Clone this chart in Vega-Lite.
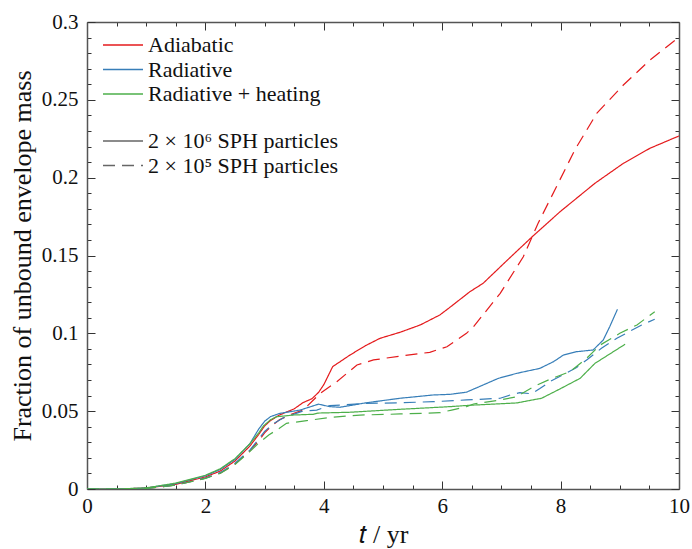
{
  "$schema": "https://vega.github.io/schema/vega-lite/v6.json",
  "width": 592,
  "height": 467,
  "autosize": {"type": "none"},
  "padding": {"left": 87, "top": 22, "right": 13, "bottom": 60},
  "background": "white",
  "config": {
    "view": {"stroke": null},
    "font": "Liberation Serif",
    "axis": {"grid": false, "domainColor": "#555", "domainWidth": 1.5, "tickColor": "#333", "tickWidth": 1, "labelColor": "#111", "titleColor": "#111", "labelFontSize": 21, "titleFontSize": 26, "titleFontWeight": "normal", "labelFlush": false, "labelOverlap": false, "labelBound": false},
    "legend": {"labelFontSize": 22, "labelColor": "#111", "labelLimit": 0, "symbolType": "stroke", "symbolSize": 1600, "symbolStrokeWidth": 1.3, "clipHeight": 20, "rowPadding": 2.5, "labelOffset": 4, "padding": 0}
  },
  "data": {"values": [
    {"t": 0, "f": 0, "model": "Adiabatic", "res": "2 × 10⁶ SPH particles"},
    {"t": 0.5, "f": 0, "model": "Adiabatic", "res": "2 × 10⁶ SPH particles"},
    {"t": 1, "f": 0.0006, "model": "Adiabatic", "res": "2 × 10⁶ SPH particles"},
    {"t": 1.5, "f": 0.003, "model": "Adiabatic", "res": "2 × 10⁶ SPH particles"},
    {"t": 2, "f": 0.0078, "model": "Adiabatic", "res": "2 × 10⁶ SPH particles"},
    {"t": 2.25, "f": 0.0115, "model": "Adiabatic", "res": "2 × 10⁶ SPH particles"},
    {"t": 2.5, "f": 0.018, "model": "Adiabatic", "res": "2 × 10⁶ SPH particles"},
    {"t": 2.75, "f": 0.0275, "model": "Adiabatic", "res": "2 × 10⁶ SPH particles"},
    {"t": 2.9, "f": 0.035, "model": "Adiabatic", "res": "2 × 10⁶ SPH particles"},
    {"t": 3.0, "f": 0.0405, "model": "Adiabatic", "res": "2 × 10⁶ SPH particles"},
    {"t": 3.1, "f": 0.044, "model": "Adiabatic", "res": "2 × 10⁶ SPH particles"},
    {"t": 3.25, "f": 0.0475, "model": "Adiabatic", "res": "2 × 10⁶ SPH particles"},
    {"t": 3.5, "f": 0.0515, "model": "Adiabatic", "res": "2 × 10⁶ SPH particles"},
    {"t": 3.65, "f": 0.0555, "model": "Adiabatic", "res": "2 × 10⁶ SPH particles"},
    {"t": 3.8, "f": 0.058, "model": "Adiabatic", "res": "2 × 10⁶ SPH particles"},
    {"t": 3.91, "f": 0.062, "model": "Adiabatic", "res": "2 × 10⁶ SPH particles"},
    {"t": 4.0, "f": 0.067, "model": "Adiabatic", "res": "2 × 10⁶ SPH particles"},
    {"t": 4.15, "f": 0.0786, "model": "Adiabatic", "res": "2 × 10⁶ SPH particles"},
    {"t": 4.44, "f": 0.086, "model": "Adiabatic", "res": "2 × 10⁶ SPH particles"},
    {"t": 4.7, "f": 0.092, "model": "Adiabatic", "res": "2 × 10⁶ SPH particles"},
    {"t": 4.95, "f": 0.0968, "model": "Adiabatic", "res": "2 × 10⁶ SPH particles"},
    {"t": 5.29, "f": 0.1007, "model": "Adiabatic", "res": "2 × 10⁶ SPH particles"},
    {"t": 5.63, "f": 0.1054, "model": "Adiabatic", "res": "2 × 10⁶ SPH particles"},
    {"t": 5.96, "f": 0.1118, "model": "Adiabatic", "res": "2 × 10⁶ SPH particles"},
    {"t": 6.13, "f": 0.1167, "model": "Adiabatic", "res": "2 × 10⁶ SPH particles"},
    {"t": 6.47, "f": 0.1268, "model": "Adiabatic", "res": "2 × 10⁶ SPH particles"},
    {"t": 6.69, "f": 0.1321, "model": "Adiabatic", "res": "2 × 10⁶ SPH particles"},
    {"t": 7.1, "f": 0.147, "model": "Adiabatic", "res": "2 × 10⁶ SPH particles"},
    {"t": 7.51, "f": 0.1617, "model": "Adiabatic", "res": "2 × 10⁶ SPH particles"},
    {"t": 7.99, "f": 0.1781, "model": "Adiabatic", "res": "2 × 10⁶ SPH particles"},
    {"t": 8.58, "f": 0.1964, "model": "Adiabatic", "res": "2 × 10⁶ SPH particles"},
    {"t": 9.06, "f": 0.2092, "model": "Adiabatic", "res": "2 × 10⁶ SPH particles"},
    {"t": 9.51, "f": 0.2189, "model": "Adiabatic", "res": "2 × 10⁶ SPH particles"},
    {"t": 10, "f": 0.2268, "model": "Adiabatic", "res": "2 × 10⁶ SPH particles"},

    {"t": 0, "f": 0, "model": "Adiabatic", "res": "2 × 10⁵ SPH particles"},
    {"t": 0.5, "f": 0, "model": "Adiabatic", "res": "2 × 10⁵ SPH particles"},
    {"t": 1, "f": 0.0004, "model": "Adiabatic", "res": "2 × 10⁵ SPH particles"},
    {"t": 1.5, "f": 0.0025, "model": "Adiabatic", "res": "2 × 10⁵ SPH particles"},
    {"t": 2, "f": 0.007, "model": "Adiabatic", "res": "2 × 10⁵ SPH particles"},
    {"t": 2.25, "f": 0.0102, "model": "Adiabatic", "res": "2 × 10⁵ SPH particles"},
    {"t": 2.5, "f": 0.016, "model": "Adiabatic", "res": "2 × 10⁵ SPH particles"},
    {"t": 2.75, "f": 0.0245, "model": "Adiabatic", "res": "2 × 10⁵ SPH particles"},
    {"t": 2.9, "f": 0.031, "model": "Adiabatic", "res": "2 × 10⁵ SPH particles"},
    {"t": 3.0, "f": 0.036, "model": "Adiabatic", "res": "2 × 10⁵ SPH particles"},
    {"t": 3.1, "f": 0.04, "model": "Adiabatic", "res": "2 × 10⁵ SPH particles"},
    {"t": 3.25, "f": 0.0445, "model": "Adiabatic", "res": "2 × 10⁵ SPH particles"},
    {"t": 3.45, "f": 0.048, "model": "Adiabatic", "res": "2 × 10⁵ SPH particles"},
    {"t": 3.65, "f": 0.0507, "model": "Adiabatic", "res": "2 × 10⁵ SPH particles"},
    {"t": 3.94, "f": 0.0615, "model": "Adiabatic", "res": "2 × 10⁵ SPH particles"},
    {"t": 4.22, "f": 0.0689, "model": "Adiabatic", "res": "2 × 10⁵ SPH particles"},
    {"t": 4.39, "f": 0.0743, "model": "Adiabatic", "res": "2 × 10⁵ SPH particles"},
    {"t": 4.56, "f": 0.0797, "model": "Adiabatic", "res": "2 × 10⁵ SPH particles"},
    {"t": 4.84, "f": 0.0829, "model": "Adiabatic", "res": "2 × 10⁵ SPH particles"},
    {"t": 5.29, "f": 0.0854, "model": "Adiabatic", "res": "2 × 10⁵ SPH particles"},
    {"t": 5.79, "f": 0.0878, "model": "Adiabatic", "res": "2 × 10⁵ SPH particles"},
    {"t": 6.08, "f": 0.0914, "model": "Adiabatic", "res": "2 × 10⁵ SPH particles"},
    {"t": 6.41, "f": 0.1, "model": "Adiabatic", "res": "2 × 10⁵ SPH particles"},
    {"t": 6.53, "f": 0.1043, "model": "Adiabatic", "res": "2 × 10⁵ SPH particles"},
    {"t": 6.98, "f": 0.1257, "model": "Adiabatic", "res": "2 × 10⁵ SPH particles"},
    {"t": 7.37, "f": 0.1492, "model": "Adiabatic", "res": "2 × 10⁵ SPH particles"},
    {"t": 7.62, "f": 0.1707, "model": "Adiabatic", "res": "2 × 10⁵ SPH particles"},
    {"t": 7.93, "f": 0.1942, "model": "Adiabatic", "res": "2 × 10⁵ SPH particles"},
    {"t": 8.24, "f": 0.2178, "model": "Adiabatic", "res": "2 × 10⁵ SPH particles"},
    {"t": 8.61, "f": 0.2413, "model": "Adiabatic", "res": "2 × 10⁵ SPH particles"},
    {"t": 9.06, "f": 0.2595, "model": "Adiabatic", "res": "2 × 10⁵ SPH particles"},
    {"t": 9.51, "f": 0.2756, "model": "Adiabatic", "res": "2 × 10⁵ SPH particles"},
    {"t": 10, "f": 0.2902, "model": "Adiabatic", "res": "2 × 10⁵ SPH particles"},

    {"t": 0, "f": 0, "model": "Radiative", "res": "2 × 10⁶ SPH particles"},
    {"t": 0.5, "f": 0, "model": "Radiative", "res": "2 × 10⁶ SPH particles"},
    {"t": 1, "f": 0.0006, "model": "Radiative", "res": "2 × 10⁶ SPH particles"},
    {"t": 1.5, "f": 0.0035, "model": "Radiative", "res": "2 × 10⁶ SPH particles"},
    {"t": 2, "f": 0.0085, "model": "Radiative", "res": "2 × 10⁶ SPH particles"},
    {"t": 2.25, "f": 0.0125, "model": "Radiative", "res": "2 × 10⁶ SPH particles"},
    {"t": 2.5, "f": 0.019, "model": "Radiative", "res": "2 × 10⁶ SPH particles"},
    {"t": 2.75, "f": 0.029, "model": "Radiative", "res": "2 × 10⁶ SPH particles"},
    {"t": 2.9, "f": 0.0385, "model": "Radiative", "res": "2 × 10⁶ SPH particles"},
    {"t": 3.0, "f": 0.0435, "model": "Radiative", "res": "2 × 10⁶ SPH particles"},
    {"t": 3.1, "f": 0.0465, "model": "Radiative", "res": "2 × 10⁶ SPH particles"},
    {"t": 3.26, "f": 0.0486, "model": "Radiative", "res": "2 × 10⁶ SPH particles"},
    {"t": 3.6, "f": 0.0507, "model": "Radiative", "res": "2 × 10⁶ SPH particles"},
    {"t": 3.91, "f": 0.0545, "model": "Radiative", "res": "2 × 10⁶ SPH particles"},
    {"t": 4.1, "f": 0.0529, "model": "Radiative", "res": "2 × 10⁶ SPH particles"},
    {"t": 4.27, "f": 0.0525, "model": "Radiative", "res": "2 × 10⁶ SPH particles"},
    {"t": 4.72, "f": 0.0554, "model": "Radiative", "res": "2 × 10⁶ SPH particles"},
    {"t": 5.29, "f": 0.0583, "model": "Radiative", "res": "2 × 10⁶ SPH particles"},
    {"t": 5.85, "f": 0.0604, "model": "Radiative", "res": "2 × 10⁶ SPH particles"},
    {"t": 6.13, "f": 0.0608, "model": "Radiative", "res": "2 × 10⁶ SPH particles"},
    {"t": 6.41, "f": 0.0622, "model": "Radiative", "res": "2 × 10⁶ SPH particles"},
    {"t": 6.69, "f": 0.0668, "model": "Radiative", "res": "2 × 10⁶ SPH particles"},
    {"t": 6.95, "f": 0.0711, "model": "Radiative", "res": "2 × 10⁶ SPH particles"},
    {"t": 7.26, "f": 0.0743, "model": "Radiative", "res": "2 × 10⁶ SPH particles"},
    {"t": 7.65, "f": 0.0775, "model": "Radiative", "res": "2 × 10⁶ SPH particles"},
    {"t": 7.88, "f": 0.0818, "model": "Radiative", "res": "2 × 10⁶ SPH particles"},
    {"t": 8.05, "f": 0.0861, "model": "Radiative", "res": "2 × 10⁶ SPH particles"},
    {"t": 8.27, "f": 0.0882, "model": "Radiative", "res": "2 × 10⁶ SPH particles"},
    {"t": 8.55, "f": 0.0893, "model": "Radiative", "res": "2 × 10⁶ SPH particles"},
    {"t": 8.72, "f": 0.0957, "model": "Radiative", "res": "2 × 10⁶ SPH particles"},
    {"t": 8.83, "f": 0.1043, "model": "Radiative", "res": "2 × 10⁶ SPH particles"},
    {"t": 8.96, "f": 0.1154, "model": "Radiative", "res": "2 × 10⁶ SPH particles"},

    {"t": 0, "f": 0, "model": "Radiative", "res": "2 × 10⁵ SPH particles"},
    {"t": 0.5, "f": 0, "model": "Radiative", "res": "2 × 10⁵ SPH particles"},
    {"t": 1, "f": 0.0004, "model": "Radiative", "res": "2 × 10⁵ SPH particles"},
    {"t": 1.5, "f": 0.0025, "model": "Radiative", "res": "2 × 10⁵ SPH particles"},
    {"t": 2, "f": 0.007, "model": "Radiative", "res": "2 × 10⁵ SPH particles"},
    {"t": 2.25, "f": 0.0105, "model": "Radiative", "res": "2 × 10⁵ SPH particles"},
    {"t": 2.5, "f": 0.0165, "model": "Radiative", "res": "2 × 10⁵ SPH particles"},
    {"t": 2.75, "f": 0.025, "model": "Radiative", "res": "2 × 10⁵ SPH particles"},
    {"t": 2.9, "f": 0.032, "model": "Radiative", "res": "2 × 10⁵ SPH particles"},
    {"t": 3.0, "f": 0.037, "model": "Radiative", "res": "2 × 10⁵ SPH particles"},
    {"t": 3.15, "f": 0.042, "model": "Radiative", "res": "2 × 10⁵ SPH particles"},
    {"t": 3.32, "f": 0.0458, "model": "Radiative", "res": "2 × 10⁵ SPH particles"},
    {"t": 3.65, "f": 0.0501, "model": "Radiative", "res": "2 × 10⁵ SPH particles"},
    {"t": 3.88, "f": 0.0507, "model": "Radiative", "res": "2 × 10⁵ SPH particles"},
    {"t": 4.1, "f": 0.0535, "model": "Radiative", "res": "2 × 10⁵ SPH particles"},
    {"t": 4.72, "f": 0.055, "model": "Radiative", "res": "2 × 10⁵ SPH particles"},
    {"t": 5.29, "f": 0.0554, "model": "Radiative", "res": "2 × 10⁵ SPH particles"},
    {"t": 5.85, "f": 0.0561, "model": "Radiative", "res": "2 × 10⁵ SPH particles"},
    {"t": 6.41, "f": 0.0572, "model": "Radiative", "res": "2 × 10⁵ SPH particles"},
    {"t": 6.98, "f": 0.0583, "model": "Radiative", "res": "2 × 10⁵ SPH particles"},
    {"t": 7.15, "f": 0.0604, "model": "Radiative", "res": "2 × 10⁵ SPH particles"},
    {"t": 7.31, "f": 0.0619, "model": "Radiative", "res": "2 × 10⁵ SPH particles"},
    {"t": 7.51, "f": 0.0612, "model": "Radiative", "res": "2 × 10⁵ SPH particles"},
    {"t": 7.65, "f": 0.0645, "model": "Radiative", "res": "2 × 10⁵ SPH particles"},
    {"t": 7.82, "f": 0.069, "model": "Radiative", "res": "2 × 10⁵ SPH particles"},
    {"t": 8.27, "f": 0.078, "model": "Radiative", "res": "2 × 10⁵ SPH particles"},
    {"t": 8.44, "f": 0.0829, "model": "Radiative", "res": "2 × 10⁵ SPH particles"},
    {"t": 8.69, "f": 0.0904, "model": "Radiative", "res": "2 × 10⁵ SPH particles"},
    {"t": 8.95, "f": 0.0968, "model": "Radiative", "res": "2 × 10⁵ SPH particles"},
    {"t": 9.37, "f": 0.1054, "model": "Radiative", "res": "2 × 10⁵ SPH particles"},
    {"t": 9.59, "f": 0.109, "model": "Radiative", "res": "2 × 10⁵ SPH particles"},

    {"t": 0, "f": 0, "model": "Radiative + heating", "res": "2 × 10⁶ SPH particles"},
    {"t": 0.5, "f": 0, "model": "Radiative + heating", "res": "2 × 10⁶ SPH particles"},
    {"t": 1, "f": 0.0007, "model": "Radiative + heating", "res": "2 × 10⁶ SPH particles"},
    {"t": 1.5, "f": 0.0038, "model": "Radiative + heating", "res": "2 × 10⁶ SPH particles"},
    {"t": 2, "f": 0.0088, "model": "Radiative + heating", "res": "2 × 10⁶ SPH particles"},
    {"t": 2.25, "f": 0.013, "model": "Radiative + heating", "res": "2 × 10⁶ SPH particles"},
    {"t": 2.5, "f": 0.0195, "model": "Radiative + heating", "res": "2 × 10⁶ SPH particles"},
    {"t": 2.75, "f": 0.029, "model": "Radiative + heating", "res": "2 × 10⁶ SPH particles"},
    {"t": 2.9, "f": 0.036, "model": "Radiative + heating", "res": "2 × 10⁶ SPH particles"},
    {"t": 2.98, "f": 0.0405, "model": "Radiative + heating", "res": "2 × 10⁶ SPH particles"},
    {"t": 3.1, "f": 0.0445, "model": "Radiative + heating", "res": "2 × 10⁶ SPH particles"},
    {"t": 3.2, "f": 0.0464, "model": "Radiative + heating", "res": "2 × 10⁶ SPH particles"},
    {"t": 3.48, "f": 0.0475, "model": "Radiative + heating", "res": "2 × 10⁶ SPH particles"},
    {"t": 3.82, "f": 0.048, "model": "Radiative + heating", "res": "2 × 10⁶ SPH particles"},
    {"t": 3.91, "f": 0.0488, "model": "Radiative + heating", "res": "2 × 10⁶ SPH particles"},
    {"t": 4.44, "f": 0.0493, "model": "Radiative + heating", "res": "2 × 10⁶ SPH particles"},
    {"t": 5.29, "f": 0.0512, "model": "Radiative + heating", "res": "2 × 10⁶ SPH particles"},
    {"t": 6.13, "f": 0.0529, "model": "Radiative + heating", "res": "2 × 10⁶ SPH particles"},
    {"t": 6.47, "f": 0.0538, "model": "Radiative + heating", "res": "2 × 10⁶ SPH particles"},
    {"t": 7.26, "f": 0.0553, "model": "Radiative + heating", "res": "2 × 10⁶ SPH particles"},
    {"t": 7.68, "f": 0.0583, "model": "Radiative + heating", "res": "2 × 10⁶ SPH particles"},
    {"t": 8.0, "f": 0.0645, "model": "Radiative + heating", "res": "2 × 10⁶ SPH particles"},
    {"t": 8.33, "f": 0.0711, "model": "Radiative + heating", "res": "2 × 10⁶ SPH particles"},
    {"t": 8.58, "f": 0.0807, "model": "Radiative + heating", "res": "2 × 10⁶ SPH particles"},
    {"t": 9.09, "f": 0.093, "model": "Radiative + heating", "res": "2 × 10⁶ SPH particles"},

    {"t": 0, "f": 0, "model": "Radiative + heating", "res": "2 × 10⁵ SPH particles"},
    {"t": 0.5, "f": 0, "model": "Radiative + heating", "res": "2 × 10⁵ SPH particles"},
    {"t": 1, "f": 0.0004, "model": "Radiative + heating", "res": "2 × 10⁵ SPH particles"},
    {"t": 1.5, "f": 0.0025, "model": "Radiative + heating", "res": "2 × 10⁵ SPH particles"},
    {"t": 2, "f": 0.0068, "model": "Radiative + heating", "res": "2 × 10⁵ SPH particles"},
    {"t": 2.25, "f": 0.01, "model": "Radiative + heating", "res": "2 × 10⁵ SPH particles"},
    {"t": 2.5, "f": 0.0158, "model": "Radiative + heating", "res": "2 × 10⁵ SPH particles"},
    {"t": 2.75, "f": 0.024, "model": "Radiative + heating", "res": "2 × 10⁵ SPH particles"},
    {"t": 2.9, "f": 0.0295, "model": "Radiative + heating", "res": "2 × 10⁵ SPH particles"},
    {"t": 3.07, "f": 0.0347, "model": "Radiative + heating", "res": "2 × 10⁵ SPH particles"},
    {"t": 3.25, "f": 0.039, "model": "Radiative + heating", "res": "2 × 10⁵ SPH particles"},
    {"t": 3.37, "f": 0.0422, "model": "Radiative + heating", "res": "2 × 10⁵ SPH particles"},
    {"t": 3.71, "f": 0.0439, "model": "Radiative + heating", "res": "2 × 10⁵ SPH particles"},
    {"t": 4.1, "f": 0.046, "model": "Radiative + heating", "res": "2 × 10⁵ SPH particles"},
    {"t": 4.61, "f": 0.0475, "model": "Radiative + heating", "res": "2 × 10⁵ SPH particles"},
    {"t": 5.29, "f": 0.0482, "model": "Radiative + heating", "res": "2 × 10⁵ SPH particles"},
    {"t": 5.96, "f": 0.049, "model": "Radiative + heating", "res": "2 × 10⁵ SPH particles"},
    {"t": 6.16, "f": 0.0507, "model": "Radiative + heating", "res": "2 × 10⁵ SPH particles"},
    {"t": 6.41, "f": 0.0529, "model": "Radiative + heating", "res": "2 × 10⁵ SPH particles"},
    {"t": 6.53, "f": 0.0546, "model": "Radiative + heating", "res": "2 × 10⁵ SPH particles"},
    {"t": 6.98, "f": 0.0572, "model": "Radiative + heating", "res": "2 × 10⁵ SPH particles"},
    {"t": 7.26, "f": 0.0593, "model": "Radiative + heating", "res": "2 × 10⁵ SPH particles"},
    {"t": 7.54, "f": 0.0657, "model": "Radiative + heating", "res": "2 × 10⁵ SPH particles"},
    {"t": 7.82, "f": 0.0705, "model": "Radiative + heating", "res": "2 × 10⁵ SPH particles"},
    {"t": 8.16, "f": 0.0754, "model": "Radiative + heating", "res": "2 × 10⁵ SPH particles"},
    {"t": 8.44, "f": 0.084, "model": "Radiative + heating", "res": "2 × 10⁵ SPH particles"},
    {"t": 8.67, "f": 0.0925, "model": "Radiative + heating", "res": "2 × 10⁵ SPH particles"},
    {"t": 9.0, "f": 0.1, "model": "Radiative + heating", "res": "2 × 10⁵ SPH particles"},
    {"t": 9.29, "f": 0.1054, "model": "Radiative + heating", "res": "2 × 10⁵ SPH particles"},
    {"t": 9.59, "f": 0.1139, "model": "Radiative + heating", "res": "2 × 10⁵ SPH particles"}
  ]},
  "layer": [
    {
      "mark": {"type": "line", "strokeWidth": 1.2, "interpolate": "linear", "clip": true},
      "encoding": {
        "x": {"field": "t", "type": "quantitative", "scale": {"domain": [0, 10], "nice": false},
          "axis": {"orient": "bottom", "title": "𝑡 / yr", "titlePadding": 1,
            "values": [0, 0.5, 1, 1.5, 2, 2.5, 3, 3.5, 4, 4.5, 5, 5.5, 6, 6.5, 7, 7.5, 8, 8.5, 9, 9.5, 10],
            "labelExpr": "datum.value % 2 == 0 ? format(datum.value, 'd') : ''",
            "tickSize": {"condition": {"test": "datum.value % 2 == 0", "value": -8}, "value": -4},
            "labelPadding": 14}},
        "y": {"field": "f", "type": "quantitative", "scale": {"domain": [0, 0.3], "nice": false},
          "axis": {"orient": "left", "title": "Fraction of unbound envelope mass", "titlePadding": 6,
            "values": [0, 0.01, 0.02, 0.03, 0.04, 0.05, 0.06, 0.07, 0.08, 0.09, 0.1, 0.11, 0.12, 0.13, 0.14, 0.15, 0.16, 0.17, 0.18, 0.19, 0.2, 0.21, 0.22, 0.23, 0.24, 0.25, 0.26, 0.27, 0.28, 0.29, 0.3],
            "labelExpr": "abs(datum.value*20 - round(datum.value*20)) < 1e-6 ? format(datum.value, '~g') : ''",
            "tickSize": {"condition": {"test": "abs(datum.value*20 - round(datum.value*20)) < 1e-6", "value": -8}, "value": -4},
            "labelPadding": 17}},
        "color": {"field": "model", "type": "nominal",
          "scale": {"domain": ["Adiabatic", "Radiative", "Radiative + heating"], "range": ["#e41a1c", "#377eb8", "#4daf4a"]},
          "legend": {"orient": "none", "legendX": 15, "legendY": 13, "title": null}},
        "strokeDash": {"field": "res", "type": "nominal",
          "scale": {"domain": ["2 × 10⁶ SPH particles", "2 × 10⁵ SPH particles"], "range": [[1, 0], [12, 7]]},
          "legend": {"orient": "none", "legendX": 15, "legendY": 109, "title": null, "symbolStrokeColor": "#666"}}
      }
    },
    {
      "mark": {"type": "point", "opacity": 0},
      "encoding": {
        "x": {"field": "t", "type": "quantitative",
          "axis": {"orient": "top", "title": null, "labels": false,
            "values": [0, 0.5, 1, 1.5, 2, 2.5, 3, 3.5, 4, 4.5, 5, 5.5, 6, 6.5, 7, 7.5, 8, 8.5, 9, 9.5, 10],
            "tickSize": {"condition": {"test": "datum.value % 2 == 0", "value": -8}, "value": -4}}},
        "y": {"field": "f", "type": "quantitative",
          "axis": {"orient": "right", "title": null, "labels": false,
            "values": [0, 0.01, 0.02, 0.03, 0.04, 0.05, 0.06, 0.07, 0.08, 0.09, 0.1, 0.11, 0.12, 0.13, 0.14, 0.15, 0.16, 0.17, 0.18, 0.19, 0.2, 0.21, 0.22, 0.23, 0.24, 0.25, 0.26, 0.27, 0.28, 0.29, 0.3],
            "tickSize": {"condition": {"test": "abs(datum.value*20 - round(datum.value*20)) < 1e-6", "value": -8}, "value": -4}}}
      }
    }
  ],
  "resolve": {"axis": {"x": "independent", "y": "independent"}}
}
